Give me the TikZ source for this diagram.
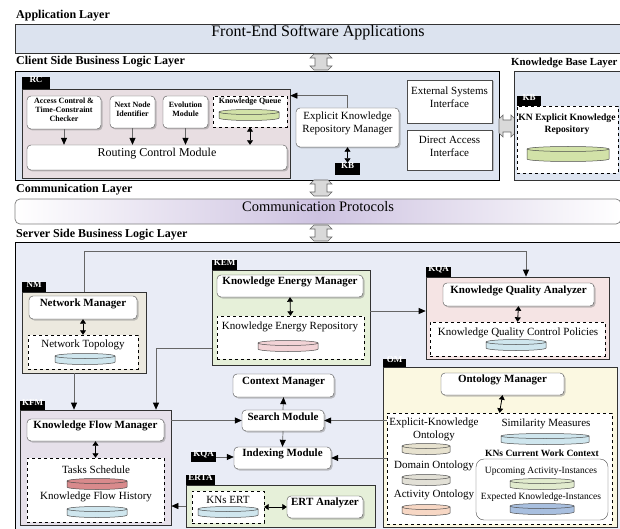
\documentclass[tikz,border=0pt]{standalone}
\usepackage{fontspec}
\setmainfont{Liberation Serif}
\usetikzlibrary{arrows.meta,fit,shadows,positioning}

\definecolor{barblue}{HTML}{DCE3EF}
\definecolor{layerblue}{HTML}{DEE5F1}
\definecolor{serverblue}{HTML}{E9ECF6}
\definecolor{rcpink}{HTML}{E8DEE2}
\definecolor{nmbeige}{HTML}{ECE9DF}
\definecolor{kemgreen}{HTML}{E6F0D9}
\definecolor{kqapink}{HTML}{F5E4E4}
\definecolor{kfmmauve}{HTML}{E6E0EA}
\definecolor{omyellow}{HTML}{FBF8E1}
\definecolor{commlav}{HTML}{CEC3E1}
\definecolor{discgreen}{HTML}{D2E2A8}
\definecolor{discblue}{HTML}{CFE6EE}
\definecolor{discpink}{HTML}{F2D3D6}
\definecolor{discred}{HTML}{D98A8C}
\definecolor{discbeige}{HTML}{E7E2CF}
\definecolor{discgrey}{HTML}{E2E0D6}
\definecolor{discpeach}{HTML}{F7D7C4}
\definecolor{disclgreen}{HTML}{E1EBCD}
\definecolor{discsteel}{HTML}{A8BFDF}

% flat data store: [half straight height]{x}{y}{half width}{colour}
\newcommand\datadisc[5][3]{%
  \filldraw[fill=#5, draw=black!70, line width=0.5pt] (#2-#4,#3-#1) -- (#2-#4,#3+#1)
    arc[start angle=180, end angle=360, x radius=#4pt, y radius=2.5pt] -- (#2+#4,#3-#1)
    arc[start angle=0, end angle=180, x radius=#4pt, y radius=2.5pt] -- cycle;
  \draw[black!70, line width=0.5pt] (#2-#4,#3-#1) arc[start angle=180, end angle=360, x radius=#4pt, y radius=2.5pt];}

\begin{document}
\begin{tikzpicture}[x=1pt, y=-1pt,
    layer/.style={anchor=west, inner sep=0pt, font=\fontsize{12}{14}\selectfont\bfseries},
    panel/.style={draw=black!80, line width=0.7pt, inner sep=0pt},
    tab/.style={fill=black, inner sep=0pt, text=white, font=\fontsize{9}{10}\selectfont\bfseries},
    module/.style={draw=black!70, fill=white, rounded corners=4pt, inner sep=0pt, align=center,
        drop shadow={shadow xshift=1.5pt, shadow yshift=-1.5pt, fill=black!45}},
    plainbox/.style={module, rounded corners=0pt},
    store/.style={draw=black, dashed, fill=white, inner sep=0pt},
    big/.style={font=\fontsize{11}{13}\selectfont},
    bigb/.style={font=\fontsize{11}{13}\selectfont\bfseries},
    smallb/.style={font=\fontsize{8}{9}\selectfont\bfseries},
    txt/.style={inner sep=0pt, align=center},
    conn/.style={draw=black!60, line width=0.7pt, -{Triangle[length=7pt, width=6pt, color=black]}},
    both/.style={draw=black, line width=0.8pt, {Triangle[length=4.5pt, width=6pt]}-{Triangle[length=4.5pt, width=6pt]}},
    updown/.pic={\filldraw[fill=black!15, draw=black!60, line width=0.6pt]
        (-7,-8) -- (7,-8) -- (11,-4) -- (6,-4) -- (6,4) -- (11,4) -- (7,8) -- (-7,8)
        -- (-11,4) -- (-6,4) -- (-6,-4) -- (-11,-4) -- cycle;}
  ]
\useasboundingbox (0,0) rectangle (620,529);

% application layer
\node[layer] (applbl) at (16,16) {Application Layer};
\node[panel, fill=barblue, fit={(15,24) (621,53)}, font=\fontsize{16}{18}\selectfont] (frontend) {Front-End Software Applications};
\pic at (321,62) {updown};

% client side
\node[layer] (clientlbl) at (16,62) {Client Side Business Logic Layer};
\node[panel, draw=black, fill=layerblue, fit={(15,71) (499,180)}] (client) {};
\node[tab, fit={(22,77) (50,89)}] (rctab) {RC};
\node[panel, fill=rcpink, fit={(22,89) (290,178)}] (rc) {};
\node[module, smallb, fit={(27,96) (101,129)}] (acc) {Access Control \&\\Time-Constraint\\Checker};
\node[module, smallb, fit={(110,96) (155,128)}] (nni) {Next Node\\Identifier};
\node[module, smallb, fit={(163,96) (208,128)}] (evo) {Evolution\\Module};
\node[store, fit={(213,96) (287,127)}] (queue) {};
\node[txt, smallb] (queuetxt) at (250,102) {Knowledge Queue};
\datadisc{249}{115}{30}{discgreen}
\node[module, font=\fontsize{12}{14}\selectfont, fit={(27,145) (287,170)}] (rcm) {Routing Control Module};
\node[module, big, fit={(296,108) (399,147)}] (ekrm) {Explicit Knowledge\\Repository Manager};
\node[tab, fit={(335,163) (360,175)}] (kbtab) {KB};
\node[plainbox, big, fit={(407,80) (492,123)}] (esi) {External Systems\\Interface};
\node[plainbox, big, fit={(407,130) (492,170)}] (dai) {Direct Access\\Interface};
\pic[rotate=90] at (507,126) {updown};

% knowledge base layer
\node[layer, font=\fontsize{10.8}{13}\selectfont\bfseries] (kblbl) at (511,63) {Knowledge Base Layer};
\node[panel, fill=layerblue, fit={(514,71) (625,180)}] (kblayer) {};
\node[tab, fit={(517,96) (541,106)}] (kbtab2) {KB};
\node[store, fit={(517,106) (618,173)}] (kbstore) {};
\node[txt, font=\fontsize{9.6}{12}\selectfont\bfseries] (kbtxt) at (567,124) {KN Explicit Knowledge\\Repository};
\datadisc[5]{568}{154}{41}{discgreen}

% communication layer
\pic at (321,188) {updown};
\node[layer] (commlbl) at (16,190) {Communication Layer};
\node[panel, draw=black!50, rounded corners=5pt, left color=white, right color=white, middle color=commlav,
    fit={(15,199) (621,224)}, font=\fontsize{14.5}{16}\selectfont] (comm) {Communication Protocols};
\pic at (321,233) {updown};

% server side
\node[layer] (serverlbl) at (16,235) {Server Side Business Logic Layer};
\node[panel, draw=black, fill=serverblue, fit={(15,242) (625,535)}] (server) {};

\node[tab, fit={(22,282) (46,292)}] (nmtab) {NM};
\node[panel, fill=nmbeige, fit={(22,292) (146,373)}] (nm) {};
\node[module, bigb, fit={(29,296) (137,319)}] (nmgr) {Network Manager};
\node[store, fit={(28,335) (138,369)}] (topo) {};
\node[txt, big] (topotxt) at (83,345) {Network Topology};
\datadisc{85}{359}{30}{discblue}

\node[tab, fit={(212,260) (237,270)}] (kemtab) {KEM};
\node[panel, fill=kemgreen, fit={(212,270) (370,365)}] (kem) {};
\node[module, bigb, fit={(217,275) (363,297)}] (kemgr) {Knowledge Energy Manager};
\node[store, fit={(217,316) (364,359)}] (kerepo) {};
\node[txt, big] (kerepotxt) at (290,327) {Knowledge Energy Repository};
\datadisc{288}{346}{30}{discpink}

\node[tab, fit={(426,267) (451,277)}] (kqatab) {KQA};
\node[panel, fill=kqapink, fit={(426,277) (609,359)}] (kqa) {};
\node[module, bigb, fit={(443,283) (594,306)}] (kqamgr) {Knowledge Quality Analyzer};
\node[store, fit={(430,322) (605,356)}] (kqc) {};
\node[txt, big] (kqctxt) at (518,333) {Knowledge Quality Control Policies};
\datadisc{516}{345}{30}{discblue}

\node[tab, fit={(20,401) (45,410)}] (kfmtab) {KFM};
\node[panel, fill=kfmmauve, fit={(20,410) (171,525)}] (kfm) {};
\node[module, bigb, fit={(27,419) (164,441)}] (kfmgr) {Knowledge Flow Manager};
\node[store, fit={(27,458) (164,522)}] (kfstore) {};
\node[txt, big] (taskstxt) at (96,470) {Tasks Schedule};
\datadisc{97}{484}{30}{discred}
\node[txt, big] (historytxt) at (96,497) {Knowledge Flow History};
\datadisc{97}{512}{30}{discblue}

\node[module, bigb, fit={(233,374) (334,397)}] (ctx) {Context Manager};
\node[module, bigb, fit={(242,410) (324,431)}] (search) {Search Module};
\node[module, bigb, fit={(234,447) (331,469)}] (index) {Indexing Module};
\node[tab, fit={(191,452) (216,462)}] (kqatab2) {KQA};

\node[tab, fit={(186,475) (215,485)}] (ertatab) {ERTA};
\node[panel, fill=kemgreen, fit={(186,485) (375,527)}] (erta) {};
\node[store, fit={(192,491) (264,523)}] (ert) {};
\node[txt, big] (erttxt) at (228,500) {KNs ERT};
\datadisc{228}{512}{30}{discblue}
\node[module, bigb, fit={(287,496) (363,518)}] (ertana) {ERT Analyzer};

\node[tab, fit={(383,359) (406,367)}] (omtab) {OM};
\node[panel, fill=omyellow, fit={(383,367) (617,527)}] (om) {};
\node[module, bigb, fit={(441,373) (564,395)}] (omgr) {Ontology Manager};
\node[store, fit={(387,413) (612,524)}] (onto) {};
\node[txt, big] (ekotxt) at (434,429) {Explicit-Knowledge\\Ontology};
\datadisc{426}{449}{24}{discbeige}
\node[txt, big] (domtxt) at (434,466) {Domain Ontology};
\datadisc{426}{480}{24}{discgrey}
\node[txt, big] (acttxt) at (434,495) {Activity Ontology};
\datadisc{426}{510}{24}{discpeach}
\node[txt, big] (simtxt) at (546,424) {Similarity Measures};
\datadisc{545}{439}{44}{discblue}
\node[txt, font=\fontsize{9.5}{11}\selectfont\bfseries] (cwtxt) at (542,453) {KNs Current Work Context};
\node[draw=black!70, rounded corners=8pt, inner sep=0pt, fit={(476,459) (608,520)}] (cwbox) {};
\node[txt, font=\fontsize{9.5}{11}\selectfont] (uptxt) at (541,471) {Upcoming Activity-Instances};
\datadisc{542}{484}{32}{disclgreen}
\node[txt, font=\fontsize{9.5}{11}\selectfont] (exptxt) at (541,497) {Expected Knowledge-Instances};
\datadisc{542}{509}{32}{discsteel}

% connectors
\foreach \m in {acc, nni, evo} {
    \draw[conn] (\m.south) -- (\m.south |- rcm.north);
}
\draw[both] (queue.south) -- (queue.south |- rcm.north);
\draw[conn] (ekrm.north) |- ([yshift=-7pt]rc.north east);
\draw[both] (ekrm.south) -- (kbtab.north);

\draw[both] (nmgr.south) -- (topo.north);
\draw[both] (kemgr.south) -- (kerepo.north);
\draw[both] (kqamgr.south) -- (kqc.north);
\draw[both] (kfmgr.south) -- (kfstore.north);
\draw[both] (omgr.south) -- (onto.north);
\draw[both] (ert.east) -- (ertana.west);

\draw[conn] (nm.north) -- ++(0,-40) -| ([xshift=8.5pt]kqa.north);
\draw[conn] ([yshift=6.5pt]kem.east) -- ([yshift=6.5pt]kem.east -| kqa.west);
\draw[conn] ([yshift=-30.5pt]kem.west) -| ([xshift=60.5pt]kfm.north);
\draw[conn] ([xshift=-10pt]nm.south) -- ([xshift=-10pt]nm.south |- kfm.north);
\draw[conn] (kfm.east |- search.west) -- (search.west);
\draw[conn] (search.north) -- (ctx.south);
\draw[conn] (search.south) -- (index.north);
\draw[conn] (kqatab2.east) -- (kqatab2.east -| index.west);
\draw[conn] (onto.west |- search.east) -- (search.east);
\draw[conn] (onto.west |- index.east) -- (index.east);
\draw[conn] (erta.west) -- (erta.west -| kfm.east);
\end{tikzpicture}
\end{document}
